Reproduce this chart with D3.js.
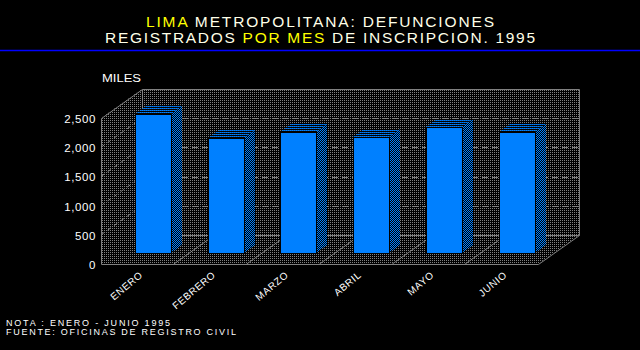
<!DOCTYPE html>
<html>
<head>
<meta charset="utf-8">
<script src="https://cdn.jsdelivr.net/npm/d3@7"></script>
<style>
  html, body { margin: 0; padding: 0; background: #000; }
  svg { display: block; }
  text { font-family: "Liberation Sans", Arial, sans-serif; }
</style>
</head>
<body>
<svg id="chart" width="640" height="350"></svg>
<script>
// Monthly registered deaths, thousands
const months = ["ENERO", "FEBRERO", "MARZO", "ABRIL", "MAYO", "JUNIO"];
const deaths = [2380, 1975, 2065, 1980, 2160, 2065];
const tickValues = [0, 500, 1000, 1500, 2000, 2500];

const titleLine1 = [["LIMA ", "#ffff00"], ["METROPOLITANA: DEFUNCIONES", "#ffffe8"]];
const titleLine2 = [["REGISTRADOS ", "#ffffe8"], ["POR MES", "#ffff00"], [" DE INSCRIPCION. 1995", "#ffffe8"]];
const unitLabel = "MILES";
const notes = ["NOTA   : ENERO - JUNIO 1995", "FUENTE: OFICINAS DE REGISTRO CIVIL"];

const svg = d3.select("#chart");
svg.append("rect").attr("width", 640).attr("height", 350).attr("fill", "#000");

// 3D box geometry: front plane and depth vector
const front = { left: 101, right: 538, bottom: 264, top: 118 };
const depth = { dx: 41, dy: -29 };
const barDepth = [0.38, 0.66];

const x = d3.scaleBand().domain(months)
  .range([front.left, front.right]).paddingInner(0.5).paddingOuter(0.25);
const y = d3.scaleLinear().domain([0, 2500]).range([front.bottom, front.top]);

// fill patterns
const defs = svg.append("defs");
const wallPat = defs.append("pattern").attr("id", "wall")
  .attr("patternUnits", "userSpaceOnUse").attr("width", 2).attr("height", 2);
wallPat.append("rect").attr("width", 2).attr("height", 2).attr("fill", "#000");
wallPat.append("rect").attr("width", 1).attr("height", 1).attr("fill", "#808080");

const sidePat = defs.append("pattern").attr("id", "side")
  .attr("patternUnits", "userSpaceOnUse").attr("width", 2).attr("height", 2);
sidePat.append("rect").attr("width", 2).attr("height", 2).attr("fill", "#000");
sidePat.append("rect").attr("width", 1).attr("height", 1).attr("fill", "#0080ff");
sidePat.append("rect").attr("x", 1).attr("y", 1).attr("width", 1).attr("height", 1).attr("fill", "#0080ff");

const topPat = defs.append("pattern").attr("id", "top")
  .attr("patternUnits", "userSpaceOnUse").attr("width", 2).attr("height", 2);
topPat.append("rect").attr("width", 2).attr("height", 2).attr("fill", "#000");
topPat.append("rect").attr("width", 1).attr("height", 1).attr("fill", "#0080ff");
topPat.append("rect").attr("x", 1).attr("y", 0).attr("width", 1).attr("height", 1).attr("fill", "#0060c0");

const pt = (px, py, t) => [px + depth.dx * t, py + depth.dy * t];
const poly = pts => pts.map(p => p.join(",")).join(" ");
const grey = "#808080";

// walls and floor
const g = svg.append("g");
g.append("polygon").attr("fill", "url(#wall)")
  .attr("points", poly([[front.left, front.top], pt(front.left, front.top, 1), pt(front.left, front.bottom, 1), [front.left, front.bottom]]));
g.append("polygon").attr("fill", "url(#wall)")
  .attr("points", poly([pt(front.left, front.top, 1), pt(front.right, front.top, 1), pt(front.right, front.bottom, 1), pt(front.left, front.bottom, 1)]));
g.append("polygon").attr("fill", "url(#wall)")
  .attr("points", poly([[front.left, front.bottom], [front.right, front.bottom], pt(front.right, front.bottom, 1), pt(front.left, front.bottom, 1)]));

// dashed gridlines on back and left walls
const gridVals = tickValues.filter(v => v > 0 && v < 2500);
g.selectAll(".gback").data(gridVals).join("line")
  .attr("x1", pt(front.left, 0, 1)[0]).attr("x2", pt(front.right, 0, 1)[0])
  .attr("y1", d => Math.round(y(d) + depth.dy) + 0.5).attr("y2", d => Math.round(y(d) + depth.dy) + 0.5)
  .attr("stroke", grey).attr("stroke-dasharray", "6,4");
g.selectAll(".gleft").data(gridVals).join("line")
  .attr("x1", front.left).attr("y1", d => y(d))
  .attr("x2", front.left + depth.dx).attr("y2", d => y(d) + depth.dy)
  .attr("stroke", grey).attr("stroke-dasharray", "4,4");

// floor dividers between categories
const step = x.step();
const dividers = d3.range(1, months.length).map(k => front.left + k * step);
g.selectAll(".div").data(dividers).join("line")
  .attr("x1", d => d).attr("y1", front.bottom)
  .attr("x2", d => d + depth.dx).attr("y2", front.bottom + depth.dy)
  .attr("stroke", grey);

// box outlines
const edges = [
  [[front.left, front.top], [front.left, front.bottom]],
  [[front.left, front.bottom], [front.right, front.bottom]],
  [[front.right, front.bottom], pt(front.right, front.bottom, 1)],
  [[front.left, front.top], pt(front.left, front.top, 1)],
  [pt(front.left, front.top, 1), pt(front.right, front.top, 1)],
  [pt(front.right, front.top, 1), pt(front.right, front.bottom, 1)],
  [pt(front.left, front.bottom, 1), pt(front.right, front.bottom, 1)],
  [pt(front.left, front.top, 1), pt(front.left, front.bottom, 1)]
];
g.selectAll(".edge").data(edges).join("line")
  .attr("x1", d => d[0][0] + 0.5).attr("y1", d => d[0][1] + 0.5)
  .attr("x2", d => d[1][0] + 0.5).attr("y2", d => d[1][1] + 0.5)
  .attr("stroke", grey);

// bars
const bars = svg.append("g").selectAll("g").data(months.map((m, i) => ({ m, v: deaths[i] }))).join("g");
bars.each(function (d) {
  const gb = d3.select(this);
  const [xl, yt] = pt(x(d.m), y(d.v), barDepth[0]).map(Math.round);
  const [, yb] = pt(0, y(0), barDepth[0]).map(Math.round);
  const xr = xl + Math.round(x.bandwidth());
  const ddx = Math.round(depth.dx * (barDepth[1] - barDepth[0]));
  const ddy = Math.round(depth.dy * (barDepth[1] - barDepth[0]));
  gb.append("polygon").attr("fill", "url(#side)")
    .attr("points", poly([[xr, yt], [xr + ddx, yt + ddy], [xr + ddx, yb + ddy], [xr, yb]]));
  gb.append("polygon").attr("fill", "url(#top)")
    .attr("points", poly([[xl, yt], [xl + ddx, yt + ddy], [xr + ddx, yt + ddy], [xr, yt]]));
  gb.append("rect").attr("x", xl + 0.5).attr("y", yt + 0.5)
    .attr("width", xr - xl).attr("height", yb - yt)
    .attr("fill", "#0080ff").attr("stroke", "#000");
});

// value axis labels
svg.append("g").selectAll("text").data(tickValues).join("text")
  .attr("x", 96).attr("y", d => y(d) + 5)
  .attr("text-anchor", "end").attr("fill", "#fff")
  .attr("font-size", 11.5).attr("letter-spacing", 0.6)
  .text(d3.format(","));

svg.append("text").attr("x", 102).attr("y", 82)
  .attr("fill", "#fff").attr("font-size", 10)
  .attr("textLength", 39).attr("lengthAdjust", "spacingAndGlyphs")
  .text(unitLabel);

// category labels
svg.append("g").selectAll("text").data(months).join("text")
  .attr("transform", d => `translate(${x(d) + x.bandwidth() / 2 + 6},276) rotate(-40)`)
  .attr("text-anchor", "end").attr("fill", "#fff")
  .attr("font-size", 10).attr("letter-spacing", 0.6)
  .text(d => d);

// title
function titleLine(parts, yy, width) {
  const t = svg.append("text").attr("x", 320).attr("y", yy)
    .attr("text-anchor", "middle").attr("font-size", 15.5)
    .attr("textLength", width).attr("lengthAdjust", "spacing");
  parts.forEach(([s, c]) => t.append("tspan").attr("fill", c).text(s));
}
titleLine(titleLine1, 27, 348);
titleLine(titleLine2, 43, 430);

svg.append("line").attr("x1", 0).attr("x2", 640).attr("y1", 50.5).attr("y2", 50.5)
  .attr("stroke", "#0000ff").attr("stroke-width", 1.5);

// notes
svg.append("g").selectAll("text").data(notes).join("text")
  .attr("x", 6).attr("y", (d, i) => 326 + i * 9)
  .attr("fill", "#fff").attr("font-size", 9)
  .attr("textLength", (d, i) => [164, 230][i]).attr("lengthAdjust", "spacing")
  .text(d => d);
</script>
</body>
</html>
